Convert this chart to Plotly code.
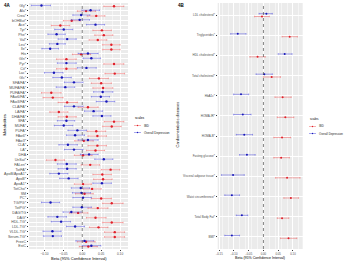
import plotly.graph_objects as go

# ---------------- Panel 4A: metabolites ----------------
metabolites = ["Gly*", "Ala*", "Crea*", "bOHBut*", "Ace*", "Tyr*", "Phe*", "Val*", "Leu*", "Ile*",
               "His", "Gln*", "Pyr*", "Cit*", "Lac*", "Glc*", "SFA/FA*", "MUFA/FA*", "PUFA/FA*",
               "FAw6/FA*", "FAw3/FA*", "CLA/FA*", "LA/FA*", "DHA/FA*", "SFA*", "MUFA*", "PUFA*",
               "FAw6*", "FAw3*", "CLA*", "LA*", "DHA", "UnSat*", "FALen*", "TotFA*", "ApoB/ApoA1*",
               "ApoB*", "ApoA1*", "TotCho*", "SM", "PC*", "TG/PG*", "TotPG*", "DAG/TG", "DAG*",
               "HDL-TG*", "LDL-TG*", "VLDL-TG*", "Serum-TG*", "FreeC", "EstC"]

ibd_beta_a = [0.084, 0.010, 0.037, -0.028, -0.058, 0.052, 0.057, 0.041, 0.077, 0.077,
              -0.003, -0.042, 0.084, -0.042, 0.086, 0.044, 0.050, 0.055, -0.082,
              -0.078, -0.040, 0.015, -0.062, -0.041, 0.084, 0.078, 0.037,
              0.040, 0.004, 0.040, 0.035, 0.002, -0.071, 0.021, 0.075, 0.053,
              0.055, 0.002, 0.026, 0.006, 0.050, 0.078, 0.041, -0.011, 0.035,
              0.078, 0.043, 0.086, 0.086, 0.010, 0.016]
ibd_low_a = [0.057, -0.013, 0.013, -0.050, -0.082, 0.028, 0.033, 0.018, 0.054, 0.054,
             -0.026, -0.068, 0.057, -0.068, 0.060, 0.019, 0.024, 0.028, -0.108,
             -0.104, -0.064, -0.011, -0.086, -0.064, 0.058, 0.054, 0.013,
             0.015, -0.020, 0.015, 0.011, -0.021, -0.095, -0.003, 0.050, 0.028,
             0.030, -0.021, 0.002, -0.018, 0.024, 0.054, 0.015, -0.034, 0.011,
             0.054, 0.019, 0.059, 0.059, -0.013, -0.008]
ibd_high_a = [0.110, 0.035, 0.060, -0.005, -0.033, 0.077, 0.081, 0.065, 0.100, 0.100,
              0.022, -0.016, 0.110, -0.016, 0.112, 0.069, 0.077, 0.081, -0.056,
              -0.051, -0.013, 0.042, -0.038, -0.016, 0.110, 0.103, 0.062,
              0.064, 0.029, 0.064, 0.059, 0.026, -0.047, 0.046, 0.099, 0.077,
              0.079, 0.024, 0.050, 0.029, 0.077, 0.108, 0.068, 0.015, 0.063,
              0.108, 0.068, 0.112, 0.112, 0.034, 0.040]

dep_beta_a = [-0.108, 0.022, -0.003, -0.007, 0.035, -0.049, -0.068, -0.040, -0.066, -0.085,
              0.015, 0.024, -0.042, 0.011, -0.075, -0.054, -0.022, -0.045, 0.054,
              0.049, 0.064, -0.022, 0.030, 0.052, -0.042, -0.049, -0.013,
              -0.019, 0.015, -0.038, -0.022, 0.018, 0.057, -0.041, -0.040, -0.062,
              -0.036, 0.052, -0.004, -0.002, 0.002, -0.084, -0.001, -0.029, -0.066,
              -0.056, -0.019, -0.079, -0.078, 0.006, 0.024]
dep_low_a = [-0.135, -0.001, -0.025, -0.029, 0.011, -0.073, -0.091, -0.064, -0.087, -0.107,
             -0.011, 0.002, -0.066, -0.013, -0.100, -0.078, -0.047, -0.069, 0.030,
             0.024, 0.037, -0.047, 0.006, 0.028, -0.066, -0.074, -0.038,
             -0.042, -0.011, -0.062, -0.047, -0.005, 0.033, -0.066, -0.064, -0.086,
             -0.060, 0.028, -0.029, -0.026, -0.025, -0.108, -0.025, -0.051, -0.091,
             -0.082, -0.042, -0.104, -0.103, -0.017, 0.000]
dep_high_a = [-0.084, 0.046, 0.020, 0.019, 0.059, -0.025, -0.045, -0.016, -0.045, -0.063,
              0.042, 0.048, -0.016, 0.037, -0.051, -0.029, 0.002, -0.020, 0.081,
              0.072, 0.086, 0.002, 0.054, 0.076, -0.020, -0.025, 0.011,
              0.006, 0.042, -0.013, 0.002, 0.042, 0.081, -0.016, -0.016, -0.038,
              -0.011, 0.077, 0.019, 0.022, 0.024, -0.060, 0.024, -0.003, -0.042,
              -0.031, 0.006, -0.056, -0.055, 0.030, 0.049]

# ---------------- Panel 4B: cardiometabolic ----------------
outcomes = ["LDL cholesterol*", "Triglycerides*", "HDL cholesterol*", "Total cholesterol*",
            "HbA1c*", "HOMA-IR*", "HOMA-B*", "Fasting glucose*", "Visceral adipose tissue*",
            "Waist circumference*", "Total Body Fat*", "BMI*"]
ibd_beta_b = [-0.005, 0.089, -0.020, 0.028, 0.065, 0.074, 0.063, 0.060, 0.080, 0.093, 0.063, 0.085]
ibd_low_b = [-0.030, 0.063, -0.046, 0.000, 0.039, 0.047, 0.035, 0.035, 0.041, 0.069, 0.047, 0.058]
ibd_high_b = [0.020, 0.115, 0.006, 0.058, 0.094, 0.103, 0.092, 0.088, 0.124, 0.119, 0.086, 0.113]
dep_beta_b = [0.010, -0.087, 0.072, 0.003, -0.076, -0.070, -0.065, -0.056, -0.103, -0.107, -0.073, -0.107]
dep_low_b = [-0.015, -0.111, 0.050, -0.025, -0.101, -0.101, -0.092, -0.081, -0.142, -0.131, -0.092, -0.131]
dep_high_b = [0.030, -0.059, 0.097, 0.030, -0.050, -0.042, -0.037, -0.028, -0.065, -0.081, -0.053, -0.081]

x_ticks_a = [-0.10, -0.05, 0.0, 0.05, 0.10]
x_ticks_b = [-0.15, -0.10, -0.05, 0.0, 0.05, 0.10]

series_names = ["IBD", "Overall Depression"]
pt_colors = ["#E0202A", "#1818B8"]
bar_colors = ["rgba(240,80,80,0.5)", "rgba(60,60,220,0.5)"]
FONT = "Liberation Sans, Arial"
W, H = 350, 263

fig = go.Figure()


def add_series(ax, labels, beta, low, high, k, offset, msize):
    ys = [i + offset for i in range(len(labels))]
    fig.add_trace(go.Scatter(
        x=beta, y=ys, mode="markers", name=series_names[k], showlegend=False,
        marker=dict(color=pt_colors[k], size=msize),
        error_x=dict(type="data", symmetric=False,
                     array=[h - b for h, b in zip(high, beta)],
                     arrayminus=[b - l for b, l in zip(beta, low)],
                     color=bar_colors[k], thickness=0.9, width=0.8),
        xaxis="x" if ax == 1 else "x2", yaxis="y" if ax == 1 else "y2"))


add_series(1, metabolites, ibd_beta_a, ibd_low_a, ibd_high_a, 0, 0.09, 2.4)
add_series(1, metabolites, dep_beta_a, dep_low_a, dep_high_a, 1, -0.09, 2.4)
add_series(2, outcomes, ibd_beta_b, ibd_low_b, ibd_high_b, 0, 0.07, 2.0)
add_series(2, outcomes, dep_beta_b, dep_low_b, dep_high_b, 1, -0.07, 2.0)


def axis_x(domain, rng, ticks, fs):
    return dict(domain=domain, range=rng, tickvals=ticks, tickformat=".2f",
                showgrid=True, gridcolor="white", gridwidth=0.6, zeroline=False,
                ticks="outside", ticklen=1.2, tickwidth=0.5, tickcolor="#333333",
                tickfont=dict(family=FONT, size=fs, color="#4D4D4D"), showline=False,
                minor=dict(showgrid=True, gridcolor="#F5F5F5", gridwidth=0.3))


def axis_y(domain, labels, fs):
    return dict(domain=domain, range=[len(labels) - 0.4, -0.6],
                tickvals=list(range(len(labels))), ticktext=labels,
                showgrid=True, gridcolor="white", gridwidth=0.6, zeroline=False,
                ticks="outside", ticklen=1.2, tickwidth=0.5, tickcolor="#333333",
                tickfont=dict(family=FONT, size=fs, color="#4D4D4D"), showline=False)


ydom = [1 - 249 / H, 1 - 3 / H]
xa = axis_x([29 / W, 128 / W], [-0.141, 0.121], x_ticks_a, 3.2)
xa["anchor"] = "y"
ya = axis_y(ydom, metabolites, 3.6)
ya["anchor"] = "x"
xb = axis_x([217.7 / W, 302.7 / W], [-0.155, 0.133], x_ticks_b, 2.8)
xb["anchor"] = "y2"
yb = axis_y(ydom, outcomes, 3.0)
yb["anchor"] = "x2"

fig.update_layout(
    width=W, height=H, margin=dict(l=0, r=0, t=0, b=0, autoexpand=False),
    paper_bgcolor="white", plot_bgcolor="#EBEBEB", showlegend=False,
    xaxis=xa, yaxis=ya, xaxis2=xb, yaxis2=yb,
    font=dict(family=FONT),
)

# vertical dotted zero lines
for xr, yr in [("x", "y"), ("x2", "y2")]:
    fig.add_shape(type="line", xref=xr, yref=yr + " domain", x0=0, x1=0, y0=0, y1=1,
                  line=dict(color="#333333", width=0.6, dash="dot"))


def px(x):
    return x / W


def py(y):
    return 1 - y / H


def txt(text, x, y, size, xanchor="center", angle=0, color="black"):
    fig.add_annotation(text=text, xref="paper", yref="paper", x=px(x), y=py(y),
                       xanchor=xanchor, yanchor="middle", textangle=angle, showarrow=False,
                       borderpad=0, font=dict(family=FONT, size=size, color=color))


# axis titles
txt("Beta (95% Confidence Interval)", 78.5, 258, 4.0)
txt("Beta (95% Confidence Interval)", 260, 258, 3.6)
txt("Metabolites", 4.5, 125, 4.2, angle=-90)
txt("Cardiometabolic diseases", 177.5, 125, 4.0, angle=-90)
txt("<b>4A</b>", 2.5, 5, 4.5, xanchor="left")
txt("<b>4B</b>", 176.5, 5, 4.5, xanchor="left")

# legends (drawn manually to keep ggplot-like compact size)
for (lx, ly, fs) in [(134, 118, 3.0), (309, 119, 2.8)]:
    txt("scales", lx, ly, fs + 0.2, xanchor="left")
    for k, name in enumerate(series_names):
        yy = ly + 7.5 + k * 7
        fig.add_shape(type="line", xref="paper", yref="paper", x0=px(lx), x1=px(lx + 7),
                      y0=py(yy), y1=py(yy), line=dict(color=bar_colors[k], width=0.9))
        fig.add_shape(type="circle", xref="paper", yref="paper", x0=px(lx + 2.8), x1=px(lx + 4.2),
                      y0=py(yy + 0.7), y1=py(yy - 0.7), fillcolor=pt_colors[k],
                      line=dict(width=0))
        txt(name, lx + 8.5, yy, fs, xanchor="left", color="#222222")

fig.write_html("out.html", config={"displayModeBar": False},
               post_script="document.body.style.margin='0px';document.body.style.overflow='hidden';")
